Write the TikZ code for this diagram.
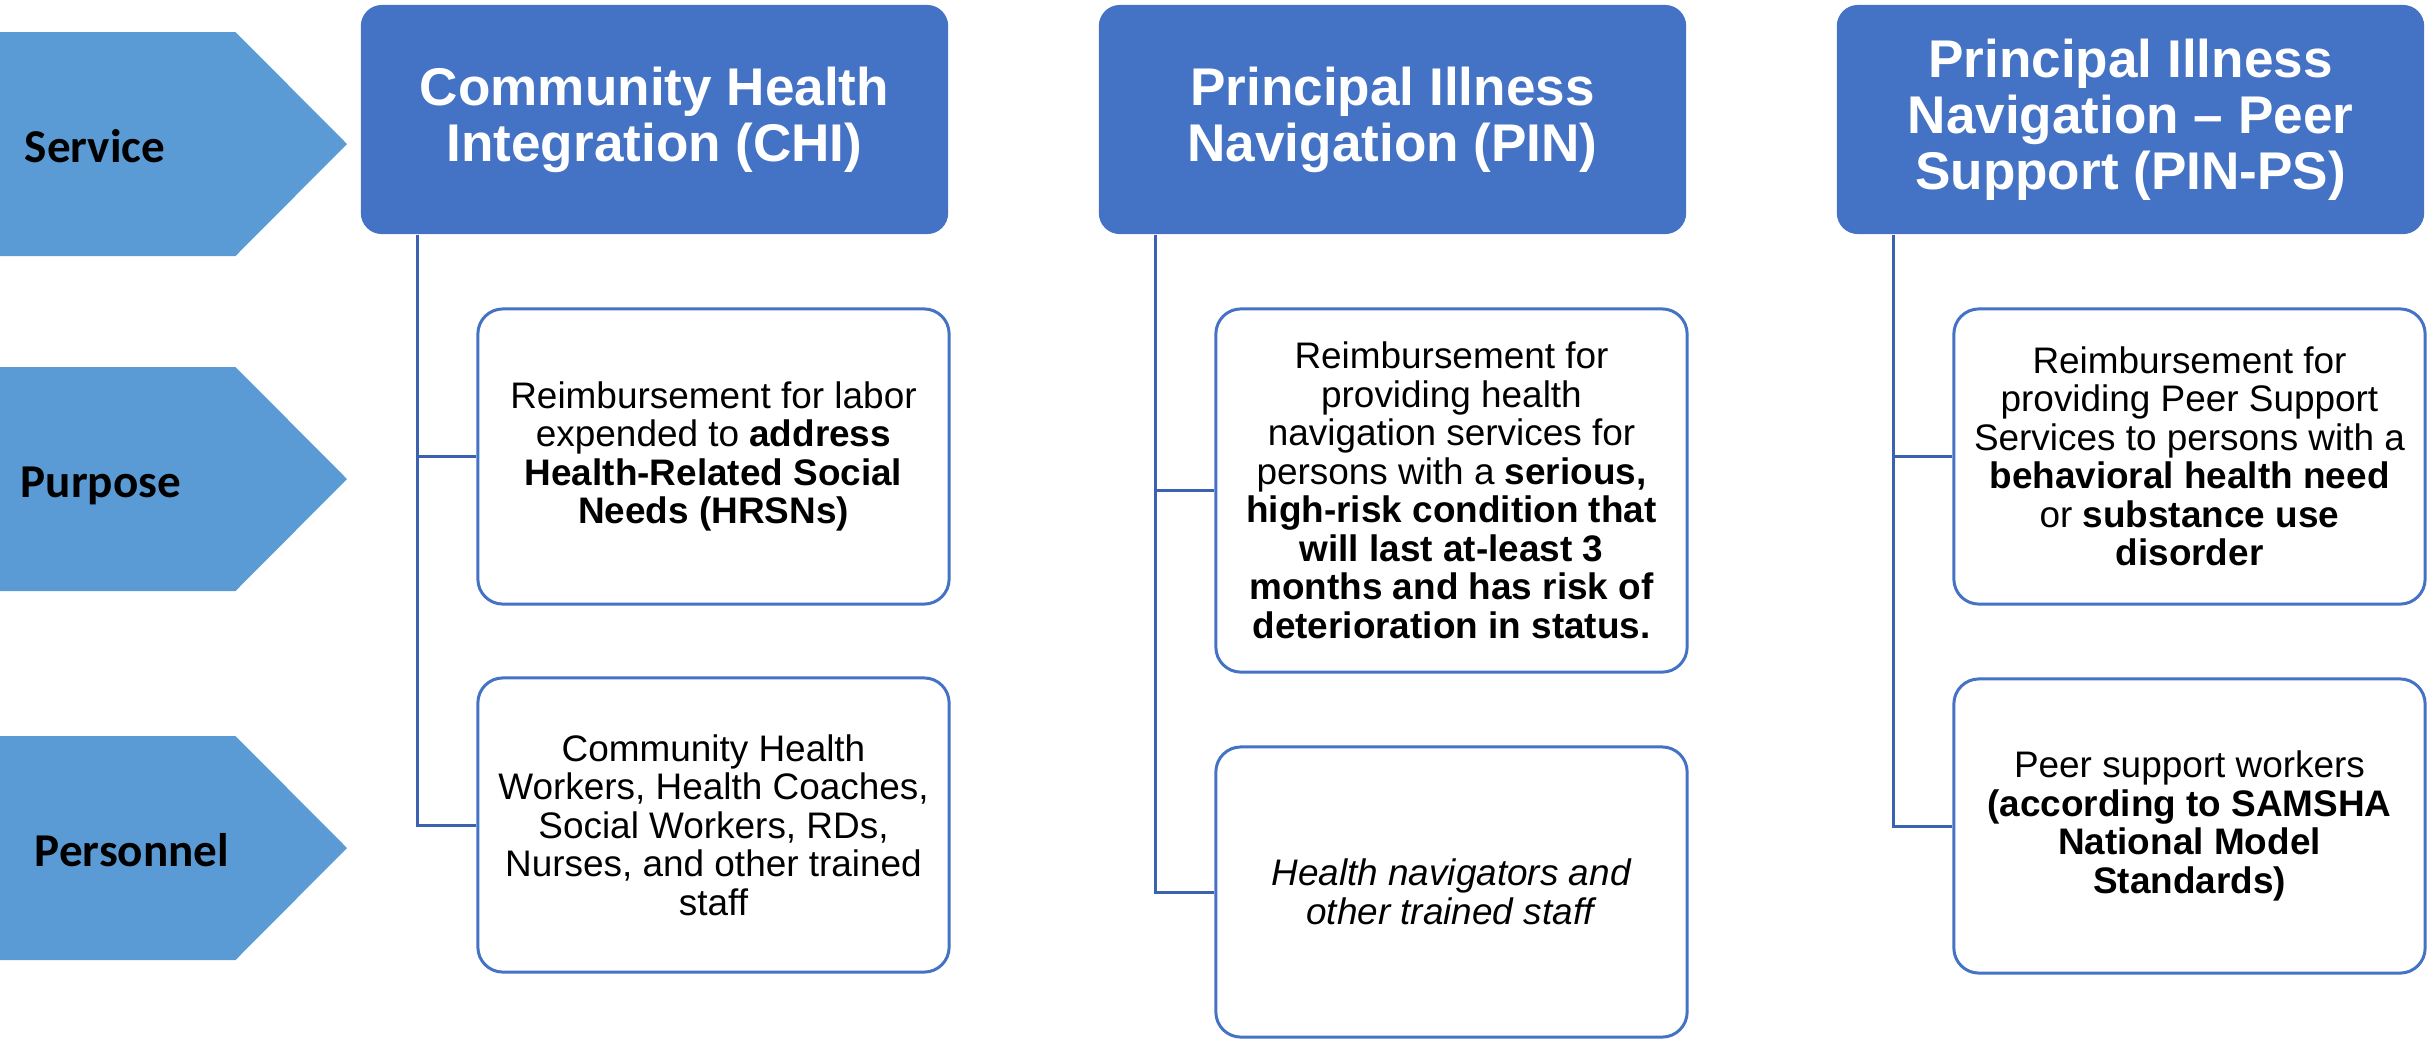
\documentclass[tikz,border=0pt]{standalone}
\usepackage{fontspec}
\setmainfont{Liberation Sans}
\newfontfamily\tagfont{Carlito}
\usepackage{tikz}

\definecolor{hdrblue}{HTML}{4472C4}
\definecolor{tagblue}{HTML}{5B9BD5}
\definecolor{linkblue}{HTML}{3A62B0}

\begin{document}
\begin{tikzpicture}[x=0.01cm, y=-0.01cm,
   hdr/.style={rectangle, rounded corners=0.21cm, fill=hdrblue, text=white,
      minimum width=5.87cm, minimum height=2.29cm, inner sep=0pt, align=center,
      font=\fontsize{15.1}{15.9}\selectfont\bfseries},
   infobox/.style={rectangle, rounded corners=0.25cm, draw=hdrblue, line width=0.85pt,
      fill=white, minimum width=4.71cm, inner sep=0pt, align=center,
      font=\fontsize{10.5}{10.95}\selectfont},
   link/.style={draw=linkblue, line width=0.85pt},
   tag/.style={inner sep=0pt, anchor=base, font=\tagfont\fontsize{13.4}{16}\selectfont\bfseries}]

   \useasboundingbox (0,0) rectangle (2432,1038);

   % row chevrons
   \foreach \t/\lab/\lx in {32/Service/95, 367/Purpose/101, 736/Personnel/132} {
      \fill [tagblue] (0,\t) -- (235.5,\t) -- (347,\t+112) -- (235.5,\t+224) -- (0,\t+224) -- cycle;
      \node [tag] (tag\lab) at (\lx,\t+130) {\lab};
   }

   % column headers
   \node [hdr] (chi) at (654.5,119.5) {Community Health\\Integration (CHI)};
   \node [hdr] (pin) at (1392.5,119.5) {Principal Illness\\Navigation (PIN)};
   \node [hdr] (pinps) at (2130.5,119.5) {Principal Illness\\Navigation – Peer\\Support (PIN-PS)};

   \coordinate (chiT) at ([xshift=0.57cm]chi.south west);
   \coordinate (pinT) at ([xshift=0.57cm]pin.south west);
   \coordinate (pinpsT) at ([xshift=0.57cm]pinps.south west);

   % boxes
   \node [infobox, minimum height=2.95cm] (chiPurpose) at (713.5,456.5)
      {Reimbursement for labor\\expended to \textbf{address}\\\textbf{Health-Related Social}\\\textbf{Needs (HRSNs)}};
   \node [infobox, minimum height=2.94cm] (chiStaff) at (713.5,825)
      {Community Health\\Workers, Health Coaches,\\Social Workers, RDs,\\Nurses, and other trained\\staff};

   \node [infobox, minimum height=3.63cm] (pinPurpose) at (1451.5,490.5)
      {Reimbursement for\\providing health\\navigation services for\\persons with a \textbf{serious,}\\\textbf{high-risk condition that}\\\textbf{will last at-least 3}\\\textbf{months and has risk of}\\\textbf{deterioration in status.}};
   \node [infobox, minimum height=2.90cm] (pinStaff) at (1451.5,892)
      {\textit{Health navigators and}\\\textit{other trained staff}};

   \node [infobox, minimum height=2.95cm] (psPurpose) at (2189.5,456.5)
      {Reimbursement for\\providing Peer Support\\Services to persons with a\\\textbf{behavioral health need}\\or \textbf{substance use}\\\textbf{disorder}};
   \node [infobox, minimum height=2.94cm] (psStaff) at (2189.5,826)
      {Peer support workers\\\textbf{(according to SAMSHA}\\\textbf{National Model}\\\textbf{Standards)}};

   % connectors
   \draw [link] (chiT) |- (chiPurpose.west);
   \draw [link] (chiT) |- (chiStaff.west);
   \draw [link] (pinT) |- (pinPurpose.west);
   \draw [link] (pinT) |- (pinStaff.west);
   \draw [link] (pinpsT) |- (psPurpose.west);
   \draw [link] (pinpsT) |- (psStaff.west);

\end{tikzpicture}
\end{document}
